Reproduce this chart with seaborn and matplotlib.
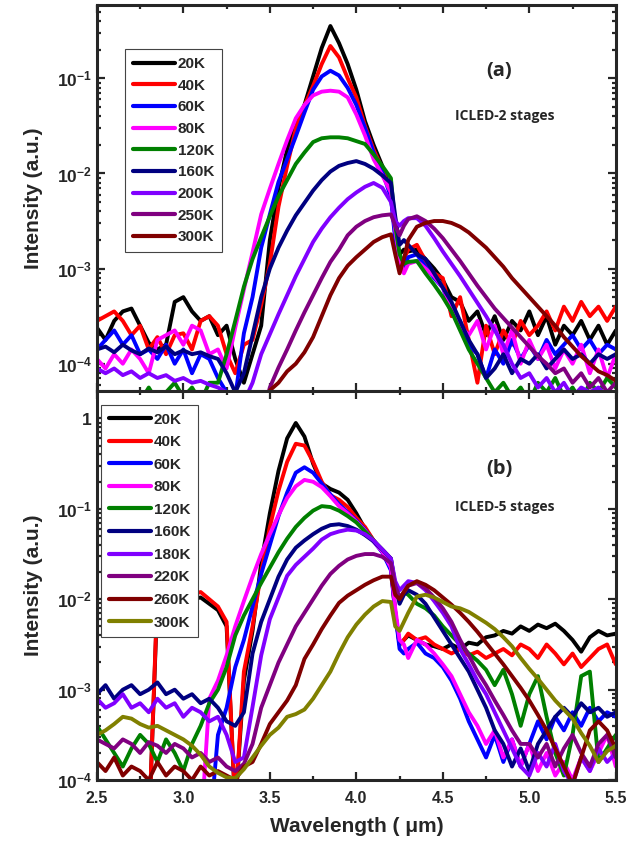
import numpy as np
import pandas as pd
import matplotlib
matplotlib.use("Agg")
import matplotlib.pyplot as plt
from matplotlib.ticker import MultipleLocator, FormatStrFormatter, FuncFormatter, NullFormatter, LogLocator
import seaborn as sns

# wavelength grid (um), finer around the 4.25 um CO2 dip
wavelength = [2.50, 2.55, 2.60, 2.65, 2.70, 2.75, 2.80, 2.85, 2.90, 2.95,
              3.00, 3.05, 3.10, 3.15, 3.20, 3.25, 3.30, 3.35, 3.40, 3.45,
              3.50, 3.55, 3.60, 3.65, 3.70, 3.75, 3.80, 3.85, 3.90, 3.95,
              4.00, 4.05, 4.10, 4.15, 4.20, 4.225, 4.25, 4.275, 4.30, 4.35,
              4.40, 4.45, 4.50, 4.55, 4.60, 4.65, 4.70, 4.75, 4.80, 4.85,
              4.90, 4.95, 5.00, 5.05, 5.10, 5.15, 5.20, 5.25, 5.30, 5.35,
              5.40, 5.45, 5.50]

# ---- panel (a), ICLED-2 stages : log10 of intensity ----
a_20K = [-3.62, -3.75, -3.55, -3.45, -3.42, -3.60, -3.78, -3.85, -3.80, -3.35,
         -3.30, -3.45, -3.55, -3.50, -3.70, -3.60, -3.95, -4.20, -3.90, -3.60,
         -2.70, -2.15, -1.75, -1.48, -1.28, -0.98, -0.68, -0.45, -0.63, -0.85,
         -1.12, -1.45, -1.70, -1.92, -2.20, -2.60, -2.85, -2.80, -2.82, -2.80,
         -2.90, -3.00, -3.12, -3.30, -3.35, -3.55, -3.45, -3.70, -3.50, -3.75,
         -3.55, -3.65, -3.45, -3.70, -3.50, -3.80, -3.60, -3.70, -3.55, -3.75,
         -3.60, -3.80, -3.65]
a_40K = [-3.55, -3.50, -3.45, -3.55, -3.70, -3.60, -3.85, -3.72, -3.90, -3.70,
         -3.68, -3.85, -3.55, -3.50, -3.60, -3.90, -4.10, -3.80, -3.75, -3.38,
         -2.95, -2.35, -1.92, -1.53, -1.29, -1.08, -0.85, -0.66, -0.78, -1.00,
         -1.20, -1.50, -1.75, -1.95, -2.20, -2.65, -2.95, -2.90, -2.80, -2.75,
         -2.92, -3.05, -3.10, -3.50, -3.30, -3.75, -4.20, -3.60, -3.90, -3.65,
         -3.80, -3.55, -3.70, -3.60, -3.45, -3.65, -3.40, -3.55, -3.35, -3.50,
         -3.40, -3.55, -3.40]
a_60K = [-3.85, -3.75, -3.65, -3.80, -3.70, -3.90, -3.85, -3.95, -3.80, -4.00,
         -3.85, -4.10, -3.90, -3.95, -4.15, -4.30, -4.35, -3.68, -3.30, -2.78,
         -2.43, -2.09, -1.85, -1.61, -1.36, -1.12, -0.98, -0.92, -0.97, -1.10,
         -1.28, -1.52, -1.78, -1.98, -2.25, -2.70, -2.95, -2.98, -2.88, -2.85,
         -2.98, -3.10, -3.20, -3.45, -3.55, -3.80, -3.90, -4.15, -3.85, -4.00,
         -3.75, -3.95, -3.80, -3.95, -3.75, -3.90, -3.80, -3.70, -3.85, -3.75,
         -3.90, -3.80, -3.85]
a_80K = [-3.95, -4.05, -3.90, -4.00, -3.85, -3.95, -4.10, -3.75, -3.70, -3.65,
         -3.80, -3.60, -3.65, -3.90, -3.85, -4.05, -3.62, -3.22, -2.83, -2.43,
         -2.16, -1.90, -1.65, -1.42, -1.28, -1.18, -1.14, -1.13, -1.14, -1.20,
         -1.38, -1.60, -1.85, -2.02, -2.20, -2.60, -2.90, -3.05, -2.95, -2.92,
         -3.00, -3.08, -3.20, -3.40, -3.60, -3.70, -3.55, -3.85, -3.60, -3.90,
         -3.65, -4.00, -3.75, -3.95, -3.80, -4.05, -3.85, -4.00, -3.80, -4.10,
         -3.85, -4.15, -3.90]
a_120K = [-4.35, -4.40, -4.30, -4.45, -4.35, -4.40, -4.25, -4.40, -4.30, -4.20,
          -4.35, -4.25, -4.40, -4.20, -4.20, -3.90, -3.55, -3.19, -2.90, -2.67,
          -2.45, -2.24, -2.07, -1.90, -1.78, -1.67, -1.63, -1.62, -1.62, -1.63,
          -1.66, -1.69, -1.80, -1.92, -2.05, -2.55, -2.85, -2.95, -2.93, -2.92,
          -3.05, -3.17, -3.30, -3.45, -3.65, -3.85, -4.00, -4.15, -4.30, -4.20,
          -4.35, -4.25, -4.40, -4.20, -4.30, -4.15, -4.35, -4.25, -4.40, -4.20,
          -4.30, -4.15, -4.25]
a_160K = [-3.85, -3.82, -3.88, -3.80, -3.86, -3.90, -3.84, -3.88, -3.82, -3.90,
          -3.86, -3.90, -3.88, -3.92, -3.95, -4.10, -4.30, -4.10, -3.70, -3.30,
          -3.00, -2.78, -2.60, -2.44, -2.31, -2.18, -2.07, -1.98, -1.92, -1.89,
          -1.87, -1.90, -1.95, -2.02, -2.10, -2.45, -2.75, -2.70, -2.75, -2.85,
          -2.90, -3.05, -3.20, -3.35, -3.55, -3.75, -3.90, -4.15, -4.05, -3.90,
          -4.10, -3.95, -4.00, -3.90, -4.05, -3.95, -3.85, -3.95, -3.90, -4.00,
          -3.90, -3.95, -3.90]
a_200K = [-4.05, -4.10, -4.05, -4.12, -4.08, -4.15, -4.10, -4.15, -4.12, -4.18,
          -4.15, -4.20, -4.18, -4.22, -4.25, -4.30, -4.35, -4.40, -4.20, -3.90,
          -3.69, -3.48, -3.28, -3.08, -2.90, -2.72, -2.58, -2.46, -2.36, -2.27,
          -2.20, -2.14, -2.10, -2.15, -2.30, -2.50, -2.55, -2.50, -2.47, -2.47,
          -2.55, -2.68, -2.82, -2.95, -3.08, -3.22, -3.36, -3.50, -3.65, -3.80,
          -4.00, -4.15, -4.10, -4.25, -4.15, -4.30, -4.20, -4.35, -4.25, -4.30,
          -4.25, -4.35, -4.30]
a_250K = [-4.60, -4.60, -4.60, -4.60, -4.60, -4.60, -4.60, -4.60, -4.60, -4.60,
          -4.60, -4.60, -4.60, -4.60, -4.60, -4.60, -4.60, -4.60, -4.60, -4.60,
          -4.25, -4.04, -3.85, -3.65, -3.46, -3.28, -3.10, -2.93, -2.80, -2.65,
          -2.56, -2.50, -2.46, -2.44, -2.43, -2.55, -2.65, -2.55, -2.48, -2.45,
          -2.50, -2.58, -2.68, -2.80, -2.92, -3.05, -3.18, -3.30, -3.42, -3.52,
          -3.62, -3.72, -3.82, -3.92, -4.00, -4.10, -4.05, -4.20, -4.10, -4.25,
          -4.15, -4.30, -4.20]
a_300K = [-4.60, -4.60, -4.60, -4.60, -4.60, -4.60, -4.60, -4.60, -4.60, -4.60,
          -4.60, -4.60, -4.60, -4.60, -4.60, -4.60, -4.60, -4.60, -4.60, -4.60,
          -4.28, -4.20, -4.08, -4.00, -3.88, -3.72, -3.50, -3.28, -3.10, -2.97,
          -2.88, -2.80, -2.72, -2.67, -2.64, -2.85, -3.05, -2.90, -2.70, -2.56,
          -2.52, -2.50, -2.50, -2.52, -2.56, -2.62, -2.70, -2.78, -2.88, -2.98,
          -3.10, -3.20, -3.30, -3.40, -3.50, -3.60, -3.72, -3.82, -3.92, -4.00,
          -4.08, -4.12, -4.18]

labels_a = ["20K", "40K", "60K", "80K", "120K", "160K", "200K", "250K", "300K"]
series_a = [a_20K, a_40K, a_60K, a_80K, a_120K, a_160K, a_200K, a_250K, a_300K]
colors_a = ["#000000", "#ff0000", "#0000ff", "#ff00ff", "#008000",
            "#000080", "#8000ff", "#800080", "#800000"]

# ---- panel (b), ICLED-5 stages ----
b_20K = [-4.60, -4.60, -4.60, -4.60, -4.60, -4.60, -4.60, -1.98, -1.96, -1.99,
         -1.97, -2.00, -1.98, -2.05, -2.12, -2.30, -4.30, -2.90, -2.35, -1.60,
         -1.05, -0.58, -0.22, -0.05, -0.20, -0.50, -0.72, -0.78, -0.82, -0.90,
         -1.05, -1.22, -1.35, -1.47, -1.63, -2.15, -2.50, -2.45, -2.40, -2.45,
         -2.50, -2.52, -2.55, -2.50, -2.55, -2.48, -2.50, -2.42, -2.40, -2.35,
         -2.38, -2.30, -2.35, -2.28, -2.32, -2.27, -2.35, -2.45, -2.58, -2.42,
         -2.35, -2.40, -2.38]
b_40K = [-4.60, -4.60, -4.60, -4.60, -4.60, -4.60, -4.60, -1.92, -1.90, -1.93,
         -1.90, -1.95, -1.92, -2.00, -2.08, -2.25, -4.30, -2.80, -2.30, -1.70,
         -1.20, -0.80, -0.48, -0.28, -0.30, -0.48, -0.70, -0.85, -0.90, -0.98,
         -1.10, -1.20, -1.35, -1.47, -1.64, -2.15, -2.50, -2.45, -2.38, -2.45,
         -2.42, -2.50, -2.55, -2.60, -2.55, -2.62, -2.58, -2.65, -2.60, -2.55,
         -2.62, -2.50, -2.55, -2.65, -2.50, -2.60, -2.72, -2.60, -2.75, -2.65,
         -2.55, -2.50, -2.72]
b_60K = [-4.60, -4.60, -4.60, -4.60, -4.60, -4.60, -4.60, -4.60, -4.60, -4.60,
         -4.60, -4.60, -4.60, -4.60, -3.50, -3.20, -2.75, -2.45, -2.08, -1.72,
         -1.40, -1.08, -0.82, -0.60, -0.54, -0.60, -0.72, -0.84, -0.95, -1.04,
         -1.13, -1.23, -1.36, -1.48, -1.68, -2.15, -2.55, -2.60, -2.55, -2.48,
         -2.60, -2.65, -2.75, -2.90, -3.10, -3.35, -3.55, -3.75, -3.50, -3.80,
         -3.55, -3.85, -3.60, -3.35, -3.55, -3.30, -3.45, -3.25, -3.40, -3.20,
         -3.35, -3.25, -3.30]
b_80K = [-4.60, -4.60, -4.60, -4.60, -4.60, -4.60, -4.60, -4.60, -4.60, -4.60,
         -4.60, -4.60, -4.60, -3.10, -2.90, -2.62, -2.30, -2.02, -1.75, -1.50,
         -1.28, -1.07, -0.88, -0.75, -0.68, -0.70, -0.76, -0.86, -0.97, -1.05,
         -1.14, -1.24, -1.36, -1.47, -1.65, -2.10, -2.45, -2.50, -2.65, -2.45,
         -2.50, -2.60, -2.72, -2.85, -3.05, -3.25, -3.40, -3.60, -3.45, -3.75,
         -3.55, -3.85, -3.60, -3.90, -3.70, -3.95, -3.80, -4.00, -3.75, -3.90,
         -3.70, -3.50, -3.85]
b_120K = [-3.40, -3.55, -3.70, -3.85, -3.65, -3.50, -3.60, -3.80, -3.55, -3.70,
          -3.90, -3.60, -3.40, -3.15, -3.00, -2.75, -2.40, -2.18, -2.00, -1.82,
          -1.65, -1.48, -1.33, -1.20, -1.10, -1.02, -0.97, -0.98, -1.02, -1.08,
          -1.15, -1.25, -1.35, -1.45, -1.55, -1.85, -2.00, -1.92, -1.95, -2.05,
          -2.10, -2.18, -2.30, -2.40, -2.50, -2.60, -2.68, -2.78, -2.95, -2.78,
          -3.05, -3.40, -3.05, -2.85, -3.30, -3.70, -3.95, -3.50, -2.85, -2.80,
          -3.80, -3.65, -3.50]
b_160K = [-3.05, -2.95, -3.10, -3.00, -2.95, -3.05, -3.00, -2.92, -3.05, -3.00,
          -3.10, -3.05, -3.15, -3.10, -3.20, -3.35, -3.40, -3.25, -2.60, -2.25,
          -2.00, -1.75, -1.56, -1.43, -1.35, -1.28, -1.22, -1.18, -1.17, -1.19,
          -1.23, -1.29, -1.36, -1.45, -1.55, -1.85, -2.05, -1.95, -1.90, -1.95,
          -2.05, -2.20, -2.35, -2.50, -2.65, -2.80, -3.00, -3.20, -3.45, -3.60,
          -3.85, -3.65, -3.90, -3.60, -3.45, -3.30, -3.20, -3.30, -3.15, -3.25,
          -3.20, -3.30, -3.25]
b_180K = [-3.10, -3.20, -3.15, -3.05, -3.20, -3.15, -3.25, -3.10, -3.20, -3.15,
          -3.30, -3.20, -3.25, -3.35, -3.30, -3.50, -3.80, -3.75, -3.19, -2.62,
          -2.22, -1.98, -1.74, -1.62, -1.53, -1.44, -1.34, -1.28, -1.25, -1.23,
          -1.24, -1.28, -1.35, -1.45, -1.55, -1.80, -1.90, -1.85, -1.80, -1.82,
          -1.90, -2.02, -2.15, -2.30, -2.55, -2.72, -2.90, -3.05, -3.25, -3.45,
          -3.65, -3.85, -3.95, -3.70, -3.85, -3.60, -3.90, -4.05, -3.75, -3.90,
          -3.65, -3.80, -3.70]
b_220K = [-3.55, -3.60, -3.65, -3.55, -3.60, -3.70, -3.58, -3.62, -3.70, -3.60,
          -3.65, -3.75, -3.70, -3.80, -3.75, -3.85, -3.90, -3.82, -3.60, -3.20,
          -2.95, -2.70, -2.50, -2.30, -2.15, -2.00, -1.85, -1.72, -1.63, -1.56,
          -1.52, -1.50, -1.50, -1.53, -1.60, -1.85, -1.98, -1.92, -1.85, -1.82,
          -1.88, -1.98, -2.10, -2.25, -2.45, -2.62, -2.80, -2.95, -3.12, -3.28,
          -3.45, -3.60, -3.60, -3.75, -3.60, -3.85, -3.65, -3.50, -3.70, -3.85,
          -3.60, -3.50, -3.75]
b_260K = [-3.80, -3.90, -3.75, -3.95, -3.85, -3.90, -4.00, -3.80, -3.95, -3.85,
          -3.90, -4.00, -3.85, -3.95, -3.90, -3.95, -4.00, -3.85, -3.80, -3.60,
          -3.38, -3.25, -3.12, -2.95, -2.66, -2.50, -2.33, -2.18, -2.04, -1.96,
          -1.90, -1.84, -1.79, -1.75, -1.75, -1.95, -2.00, -1.92, -1.85, -1.80,
          -1.84, -1.90, -1.98, -2.06, -2.15, -2.25, -2.36, -2.48, -2.60, -2.72,
          -2.85, -2.98, -3.12, -3.28, -3.45, -3.65, -3.85, -4.05, -3.75, -3.45,
          -3.35, -3.45, -3.65]
b_300K = [-3.50, -3.45, -3.38, -3.30, -3.32, -3.38, -3.42, -3.40, -3.45, -3.50,
          -3.55, -3.62, -3.72, -3.85, -3.92, -3.97, -3.98, -3.88, -3.75, -3.62,
          -3.50, -3.42, -3.30, -3.27, -3.22, -3.10, -2.95, -2.80, -2.60, -2.42,
          -2.28, -2.17, -2.08, -2.02, -2.03, -2.30, -2.35, -2.25, -2.15, -1.97,
          -1.95, -1.98, -2.03, -2.08, -2.10, -2.14, -2.20, -2.26, -2.33, -2.42,
          -2.52, -2.65, -2.77, -2.88, -3.00, -3.12, -3.22, -3.32, -3.48, -3.62,
          -3.80, -3.68, -3.62]

labels_b = ["20K", "40K", "60K", "80K", "120K", "160K", "180K", "220K", "260K", "300K"]
series_b = [b_20K, b_40K, b_60K, b_80K, b_120K, b_160K, b_180K, b_220K, b_260K, b_300K]
colors_b = ["#000000", "#ff0000", "#0000ff", "#ff00ff", "#008000",
            "#000080", "#8000ff", "#800080", "#800000", "#808000"]


def long_table(labels, series):
    frames = []
    for lab, vals in zip(labels, series):
        frames.append(pd.DataFrame({"wavelength": wavelength,
                                    "intensity": np.power(10.0, vals),
                                    "T": lab}))
    return pd.concat(frames, ignore_index=True)


sns.set_style("ticks")
plt.rcParams["font.family"] = ["Liberation Sans", "DejaVu Sans"]
plt.rcParams["font.weight"] = "bold"
plt.rcParams["axes.labelweight"] = "bold"
plt.rcParams["mathtext.fontset"] = "custom"
plt.rcParams["mathtext.rm"] = "Liberation Sans:bold"
plt.rcParams["mathtext.bf"] = "Liberation Sans:bold"
plt.rcParams["mathtext.default"] = "bf"

fig = plt.figure(figsize=(6.29, 8.47), dpi=100)
ax_a = fig.add_axes([0.154, 0.538, 0.825, 0.456])
ax_b = fig.add_axes([0.154, 0.079, 0.825, 0.459])


def log_label(v, pos):
    e = int(round(np.log10(v)))
    if e == 0:
        return r"$1$"
    return r"$10^{%d}$" % e


for ax, labels, series, colors, ylim, tag, stages, leg_anchor, spacing in [
        (ax_a, labels_a, series_a, colors_a, (10 ** -4.29, 10 ** -0.23), "(a)", "ICLED-2 stages", (0.054, 0.885), 0.5),
        (ax_b, labels_b, series_b, colors_b, (1e-4, 10 ** 0.30), "(b)", "ICLED-5 stages", (0.008, 0.965), 0.56)]:
    df = long_table(labels, series)
    sns.lineplot(data=df, x="wavelength", y="intensity", hue="T", hue_order=labels,
                 palette=colors, estimator=None, linewidth=2.8, ax=ax)
    ax.set_yscale("log")
    ax.set_xlim(2.5, 5.5)
    ax.set_ylim(*ylim)
    ax.xaxis.set_major_locator(MultipleLocator(0.5))
    ax.xaxis.set_minor_locator(MultipleLocator(0.25))
    ax.xaxis.set_major_formatter(FormatStrFormatter("%.1f"))
    ax.yaxis.set_major_locator(LogLocator(base=10))
    ax.yaxis.set_minor_locator(LogLocator(base=10, subs=np.arange(2, 10)))
    ax.yaxis.set_major_formatter(FuncFormatter(log_label))
    ax.yaxis.set_minor_formatter(NullFormatter())
    ax.tick_params(which="both", direction="in", top=True, right=True, width=1.6)
    ax.tick_params(which="major", length=6)
    ax.tick_params(which="minor", length=3)
    ax.tick_params(axis="y", labelsize=12.5)
    ax.tick_params(axis="x", labelsize=11.5, pad=8)
    for sp in ax.spines.values():
        sp.set_linewidth(2.2)
    ax.set_ylabel("Intensity (a.u.)", fontsize=15, labelpad=10)
    ax.set_xlabel("")

    handles, labs = ax.get_legend_handles_labels()
    leg = ax.legend(handles, labs, loc="upper left", bbox_to_anchor=leg_anchor,
                    frameon=True, fancybox=False, framealpha=1, edgecolor="#444444",
                    prop={"weight": "bold", "size": 11}, handlelength=2.8,
                    handletextpad=0.15, labelspacing=spacing, borderpad=0.5,
                    borderaxespad=0)
    leg.get_frame().set_linewidth(0.8)
    for h in leg.get_lines():
        h.set_linewidth(3.0)

    ax.text(0.776, 0.83 if tag == "(a)" else 0.80, tag, transform=ax.transAxes,
            ha="center", va="center", fontsize=14.5, fontweight="bold",
            family=["Open Sans", "DejaVu Sans"])
    ax.text(0.786, 0.714 if tag == "(a)" else 0.703, stages, transform=ax.transAxes,
            ha="center", va="center", fontsize=10, fontweight="bold",
            family=["Open Sans", "DejaVu Sans"])

ax_a.tick_params(axis="x", labelbottom=False)
ax_b.set_xlabel("Wavelength ( \u03bcm)", fontsize=15, labelpad=8)

fig.savefig("out.png", dpi=100)
